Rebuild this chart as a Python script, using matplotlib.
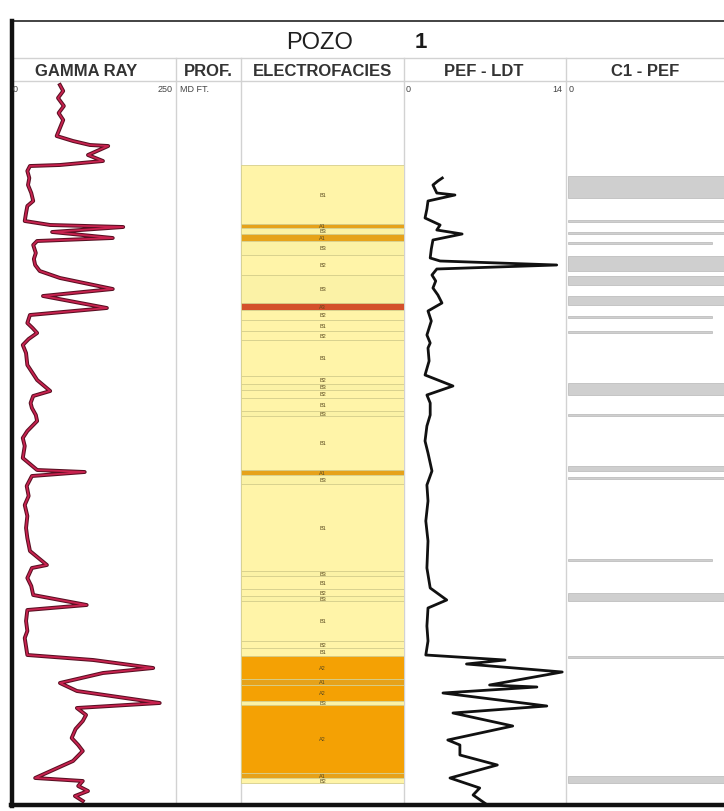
import matplotlib
matplotlib.use("Agg")
import matplotlib.pyplot as plt

# ---------------- data (depth in ft below top of log, MD) ----------------
gr_depth = [4, 10, 17, 25, 32, 39, 47, 55, 60, 64, 65, 74, 80, 84, 85, 90, 97, 104, 112,
            120, 125, 132, 140, 144, 146, 151, 157, 160, 164, 172, 178, 184, 190, 197, 208,
            215, 227, 234, 242, 247, 252, 258, 264, 272, 284, 292, 299, 310, 315, 322, 327,
            334, 340, 350, 357, 365, 377, 389, 391, 395, 405, 415, 424, 435, 447, 457, 470,
            484, 487, 497, 505, 514, 524, 529, 540, 550, 557, 574, 579, 587, 592, 602, 610,
            622, 627, 634, 640, 648, 657, 664, 670, 680, 697, 700, 705, 710, 715, 720]
gr_value = [72, 77, 69, 78, 70, 77, 72, 67, 92, 118, 146, 115, 138, 72, 26, 22, 25, 23, 28,
            31, 22, 20, 18, 57, 169, 60, 153, 37, 31, 35, 32, 34, 41, 72, 153,
            46, 144, 26, 22, 30, 37, 24, 15, 20, 22, 30, 37, 57, 31, 27, 29,
            35, 37, 22, 15, 18, 15, 37, 110, 29, 21, 24, 18, 22, 20, 22, 26,
            52, 29, 22, 28, 31, 113, 22, 20, 22, 18, 22, 123, 215, 138, 72, 98,
            225, 98, 112, 107, 96, 90, 100, 107, 92, 34, 107, 100, 115, 95, 107]

pef_depth = [97, 100, 104, 112, 114, 120, 128, 137, 144, 149, 153, 159, 168, 177, 180, 184,
             188, 194, 200, 207, 214, 222, 230, 240, 254, 262, 267, 280, 294, 305, 314, 322,
             334, 345, 360, 372, 390, 404, 420, 440, 460, 487, 507, 519, 527, 545, 560, 574,
             579, 583, 591, 604, 606, 612, 625, 632, 645, 659, 664, 674, 684, 697, 707, 714, 724]
pef_value = [3.3, 2.9, 2.45, 2.8, 4.45, 2.0, 1.9, 1.73, 3.1, 2.8, 5.1, 2.45, 2.3, 2.2, 3.1, 13.7,
             2.8, 2.36, 2.7, 2.45, 2.9, 3.27, 2.0, 2.3, 1.9, 2.2, 2.0, 2.1, 1.73, 4.27, 1.9, 2.2,
             2.2, 1.9, 1.73, 2.0, 2.36, 1.9, 2.0, 1.8, 2.0, 1.9, 2.2, 3.7, 2.0, 1.9, 2.0, 1.8,
             9.0, 5.5, 14.2, 7.6, 11.9, 3.36, 12.8, 4.27, 9.7, 3.8, 4.9, 4.9, 8.3, 4.0, 6.7, 6.1, 7.4]

facies_top = [84, 143, 147, 153, 160, 174, 194, 222, 229, 239, 250, 259, 295, 303, 309, 317,
              330, 335, 389, 394, 403, 490, 495, 508, 515, 520, 560, 567, 575, 598, 604, 620,
              624, 692, 697]
facies_bottom = [143, 147, 153, 160, 174, 194, 222, 229, 239, 250, 259, 295, 303, 309, 317, 330,
                 335, 389, 394, 403, 490, 495, 508, 515, 520, 560, 567, 575, 598, 604, 620, 624,
                 692, 697, 702]
facies_code = ["B1", "A1", "B3", "A1", "B3", "B2", "B3", "A3", "B2", "B1", "B2", "B1", "B2",
               "B3", "B2", "B1", "B3", "B1", "A1", "B3", "B1", "B3", "B1", "B2", "B3", "B1",
               "B2", "B1", "A2", "A1", "A2", "B3", "A2", "A1", "B2"]

c1_top = [95, 139, 151, 161, 175, 195, 215, 235, 250, 302, 333, 385, 396, 478, 512, 575, 695]
c1_bottom = [117, 141, 153, 163, 190, 204, 224, 237, 252, 314, 335, 390, 398, 480, 520, 577, 702]
c1_value = [1.0, 1.0, 1.0, 0.83, 1.0, 1.0, 1.0, 0.83, 0.83, 1.0, 1.0, 1.0, 1.0, 0.83, 1.0, 1.0, 1.0]

track_titles = ["GAMMA RAY", "PROF.", "ELECTROFACIES", "PEF - LDT", "C1 - PEF"]
well_name = ["POZO", "1"]

# ---------------- layout ----------------
W, H = 724, 812
fig = plt.figure(figsize=(W / 100, H / 100), dpi=100)
plt.rcParams['font.family'] = ['Liberation Sans', 'DejaVu Sans']

bg = fig.add_axes([0, 0, 1, 1])
bg.set_xlim(0, W)
bg.set_ylim(H, 0)
bg.axis('off')

TOP, HDR1, HDR2, BOT = 22, 59, 82, 806
LEFT = 12
cols = [LEFT, 176, 241, 404, 566, 760]
sep = '#d2d2d2'

# frame
bg.plot([LEFT, W], [TOP, TOP], color='#222222', lw=1.2)
bg.plot([LEFT, W], [HDR1, HDR1], color=sep, lw=1.0)
bg.plot([LEFT, W], [HDR2, HDR2], color=sep, lw=1.0)
for x in cols[1:5]:
    bg.plot([x, x], [HDR1, BOT], color=sep, lw=1.0)
bg.plot([LEFT, LEFT], [TOP, BOT + 1], color='#111111', lw=3.2)
bg.plot([LEFT - 1, W], [BOT, BOT], color='#111111', lw=3.2)

# header texts
bg.text(320, 43, well_name[0], ha='center', va='center', fontsize=17, color='#1f1f1f')
bg.text(421, 43, well_name[1], ha='center', va='center', fontsize=16, color='#1a1a1a',
        fontweight='bold')
title_x = [86, 208, 323, 484, 645]
for t, x in zip(track_titles, title_x):
    bg.text(x, 71, t, ha='center', va='center', fontsize=12, color='#333333',
            fontweight='bold')
scale_fs = 6.5
bg.text(LEFT + 1, 89, "0", ha='left', va='center', fontsize=scale_fs, color='#444444')
bg.text(173, 89, "250", ha='right', va='center', fontsize=scale_fs, color='#444444')
bg.text(180, 89, "MD FT.", ha='left', va='center', fontsize=scale_fs, color='#444444')
bg.text(406, 89, "0", ha='left', va='center', fontsize=scale_fs, color='#444444')
bg.text(562, 89, "14", ha='right', va='center', fontsize=scale_fs, color='#444444')
bg.text(569, 89, "0", ha='left', va='center', fontsize=scale_fs, color='#444444')


def track(x0, x1, y0=HDR2, y1=BOT):
    ax = fig.add_axes([x0 / W, 1 - y1 / H, (x1 - x0) / W, (y1 - y0) / H])
    ax.set_facecolor('none')
    ax.set_ylim(y1 - y0, 0)
    ax.axis('off')
    return ax

# gamma ray
ax_gr = track(13, 176)
ax_gr.set_xlim(0, 250)
ax_gr.plot(gr_value, gr_depth, color='#5a0f22', lw=2.8, solid_joinstyle='round')
ax_gr.plot(gr_value, gr_depth, color='#c8224f', lw=1.3, solid_joinstyle='round')

# electrofacies
fac_color = {"B1": "#fff4a8", "B2": "#fff4a8", "B3": "#fbf2a6",
             "A1": "#e6a21a", "A2": "#f4a104", "A3": "#d4502a"}
ax_ef = track(241, 404)
ax_ef.set_xlim(0, 1)
for t, b, c in zip(facies_top, facies_bottom, facies_code):
    ax_ef.barh(t, 1, height=b - t, left=0, align='edge', color=fac_color[c],
               edgecolor='#d6cf8c', linewidth=0.6)
    ax_ef.text(0.5, (t + b) / 2, c, ha='center', va='center', fontsize=4,
               color='#5a4a20')

# PEF
ax_pef = track(406, 560)
ax_pef.set_xlim(0, 14)
ax_pef.plot(pef_value, pef_depth, color='#111111', lw=2.0, solid_joinstyle='round',
            clip_on=False)

# C1 - PEF
ax_c1 = track(568, 742)
ax_c1.set_xlim(0, 1)
for t, b, v in zip(c1_top, c1_bottom, c1_value):
    ax_c1.barh(t, v, height=b - t, left=0, align='edge', color='#cfcfcf',
               edgecolor='#b8b8b8', linewidth=0.5)

fig.savefig("out.png", dpi=100)
